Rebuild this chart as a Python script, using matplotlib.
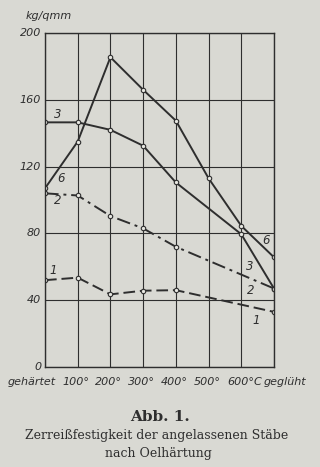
import matplotlib
matplotlib.use("Agg")
import matplotlib.pyplot as plt
import numpy as np

# Data
x_labels = ["gehärtet", "100°", "200°", "300°", "400°", "500°", "600°C", "geglüht"]
y_ticks = [0, 40, 80, 120, 160, 200]

s6_x = [0, 1, 2, 3, 4, 5, 6, 7]
s6_y = [107, 135, 185.5, 166, 147.5, 113, 84.5, 65.7]
s3_x = [0, 1, 2, 3, 4, 6, 7]
s3_y = [146.5, 146.5, 142, 132.5, 110.5, 79.5, 47]
s2_x = [0, 1, 2, 3, 4, 7]
s2_y = [104, 102.7, 90.4, 83, 72, 47]
s1_x = [0, 1, 2, 3, 4, 7]
s1_y = [52, 53.5, 43.5, 45.7, 46, 33]

paper = "#d9d9d3"
ink = "#2e2e2e"
tickfont = dict(family=["Liberation Sans Narrow", "DejaVu Sans"], style="italic", color=ink)

fig = plt.figure(figsize=(3.2, 4.67), dpi=100, facecolor=paper)
ax = fig.add_axes([45/320, 100/467, 229/320, 334/467])
ax.set_facecolor(paper)
ax.set_xlim(0, 7)
ax.set_ylim(0, 200)
for s in ax.spines.values():
    s.set_color(ink)
    s.set_linewidth(1.0)
ax.set_xticks(range(8))
ax.set_yticks(y_ticks)
ax.grid(True, color=ink, linewidth=0.8)
ax.tick_params(length=0, labelbottom=False, labelleft=False)

mk = dict(marker="o", markersize=3.2, markerfacecolor="#e6e6e0", markeredgecolor=ink,
          markeredgewidth=0.8, color=ink, linewidth=1.4)
ax.plot(s6_x, s6_y, linestyle="-", **mk)
ax.plot(s3_x, s3_y, linestyle="-", **mk)
ax.plot(s2_x, s2_y, linestyle=(0, (7, 2.5, 1.5, 2.5)), **mk)
ax.plot(s1_x, s1_y, linestyle=(0, (6, 2.5)), **mk)

# y tick labels
for v in y_ticks:
    ax.text(-0.12, v, str(v), ha="right", va="center", fontsize=8, **tickfont)
ax.text(-0.6, 207, "kg/qmm", ha="left", va="bottom", fontsize=8, **tickfont)

# x tick labels
xpos = [-0.4, 0.95, 1.95, 2.95, 3.95, 4.95, 6.1, 7.35]
for p, lab in zip(xpos, x_labels):
    ax.text(p, -6, lab, ha="center", va="top", fontsize=8, **tickfont, clip_on=False)

# series labels
lab = dict(fontsize=8.5, ha="center", va="center", **tickfont)
ax.text(0.4, 151, "3", **lab)
ax.text(0.5, 113, "6", **lab)
ax.text(0.4, 100, "2", **lab)
ax.text(0.25, 58, "1", **lab)
ax.text(6.75, 76, "6", **lab)
ax.text(6.25, 60, "3", **lab)
ax.text(6.3, 46, "2", **lab)
ax.text(6.45, 28, "1", **lab)

serif = ["DejaVu Serif"]
fig.text(0.5, 1 - 417/467, "Abb. 1.", ha="center", va="center", fontsize=11,
         fontweight="bold", family=serif, color=ink)
fig.text(0.49, 1 - 435/467, "Zerreißfestigkeit der angelassenen Stäbe", ha="center",
         va="center", fontsize=9, family=serif, color=ink)
fig.text(0.495, 1 - 453/467, "nach Oelhärtung", ha="center", va="center", fontsize=9,
         family=serif, color=ink)

fig.savefig("out.png", dpi=100, facecolor=paper)
